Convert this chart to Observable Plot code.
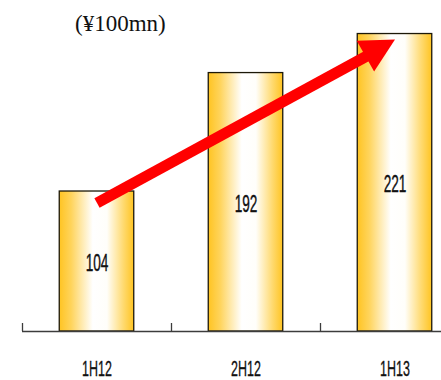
<!DOCTYPE html>
<html><head><meta charset="utf-8">
<script src="https://cdn.jsdelivr.net/npm/d3@7"></script>
<script src="https://cdn.jsdelivr.net/npm/@observablehq/plot@0.6"></script>
<style>
html,body{margin:0;padding:0;background:#fff;overflow:hidden}
#wrap{position:relative;width:441px;height:380px}
#title{position:absolute;left:75px;top:0;height:40px;font-size:23px;font-family:"Liberation Serif","Times New Roman",serif;line-height:48px;color:#111;white-space:nowrap}
</style></head><body>
<div id="wrap"><div id="title"></div></div>
<script>
// ---- data ----
const unitLabel = "(¥100mn)";
const categories = ["1H12", "2H12", "1H13"];
const values = [104, 192, 221];
const axisTicks = [-0.5, 0.5, 1.5];          // band boundaries (category index space)
const arrowStart = [0, 95.5];                 // [category index, value]
const arrowShaftEnd = [1.85, 207];
const arrowTip = [2, 217];

const bars = categories.map((c, i) => ({cat: c, i, value: values[i]}));

document.getElementById("title").textContent = unitLabel;

const NS = "http://www.w3.org/2000/svg";
function gradientDefs() {
  const defs = document.createElementNS(NS, "defs");
  const g = document.createElementNS(NS, "linearGradient");
  g.setAttribute("id", "barGrad");
  g.setAttribute("x1", "0"); g.setAttribute("x2", "1");
  g.setAttribute("y1", "0"); g.setAttribute("y2", "0");
  [[0, "#FFC422"], [0.16, "#FFD45C"], [0.45, "#FFFFFF"], [0.64, "#FFFEFA"], [0.86, "#FFDA70"], [1, "#FFC422"]].forEach(([o, c]) => {
    const s = document.createElementNS(NS, "stop");
    s.setAttribute("offset", o); s.setAttribute("stop-color", c);
    g.appendChild(s);
  });
  defs.appendChild(g);
  return defs;
}

const headShape = {
  draw(context, l, r) {
    context.moveTo(0, -l);
    context.lineTo(-r, 0);
    context.lineTo(r, 0);
    context.closePath();
  }
};

const labelFont = "Liberation Sans, Arial, sans-serif";

const chart = Plot.plot({
  width: 441,
  height: 380,
  marginLeft: 22,
  marginRight: 0,
  marginTop: 0,
  marginBottom: 49,
  style: {background: "transparent", overflow: "hidden"},
  x: {domain: [-0.5, 2.5], range: [22, 469], axis: null},
  y: {domain: [0, 331 / 1.346], axis: null},
  marks: [
    gradientDefs,
    Plot.rect(bars, {x1: d => d.i - 0.25, x2: d => d.i + 0.25, y1: 0, y2: "value",
      fill: "url(#barGrad)", stroke: "#1c1808", strokeWidth: 1.3}),
    Plot.ruleY([0], {stroke: "#3c3c3c", strokeWidth: 1.6}),
    Plot.tickX(axisTicks, {x: d => d, insetTop: 323, stroke: "#3c3c3c", strokeWidth: 1.3}),
    Plot.text(bars, {x: "i", y: d => d.value / 2, dy: 2, text: d => String(d.value),
      fontSize: 23.5, fontFamily: labelFont, fill: "#111", stroke: "#111", strokeWidth: 0.4}),
    Plot.text(bars, {x: "i", y: 0, dy: 37.5, text: "cat",
      fontSize: 21.5, fontFamily: labelFont, fill: "#111", stroke: "#111", strokeWidth: 0.35}),
    Plot.link([{a: arrowStart, b: arrowShaftEnd}], {
      x1: d => d.a[0], y1: d => d.a[1], x2: d => d.b[0], y2: d => d.b[1],
      stroke: "#FF0000", strokeWidth: 11, strokeLinecap: "butt"}),
    Plot.vector([arrowTip], {x: d => d[0], y: d => d[1], length: 34, rotate: 60.5,
      anchor: "end", shape: headShape, r: 17.7, fill: "#FF0000", stroke: "none"})
  ]
});

// condense the label glyphs horizontally (original uses a condensed face)
chart.querySelectorAll("text").forEach(t => {
  const tr = t.getAttribute("transform");
  if (tr && tr.includes("translate")) {
    t.setAttribute("transform", tr + " scale(0.58,1)");
  } else {
    t.style.transformBox = "fill-box";
    t.style.transformOrigin = "center";
    t.style.transform = "scaleX(0.58)";
  }
});

document.getElementById("wrap").appendChild(chart);
</script>
</body></html>
